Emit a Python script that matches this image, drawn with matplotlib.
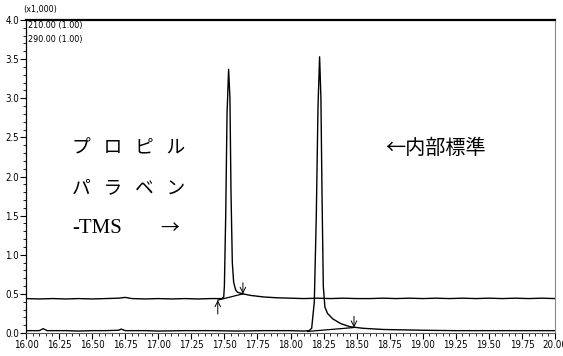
import matplotlib
matplotlib.use("Agg")
import matplotlib.pyplot as plt
from matplotlib.ticker import MultipleLocator, FormatStrFormatter

# data (x1,000)
t_upper = [16.00, 16.10, 16.20, 16.30, 16.40, 16.50, 16.60, 16.70, 16.75, 16.80, 16.90,
           17.00, 17.10, 17.20, 17.30, 17.40, 17.48, 17.495, 17.50, 17.51, 17.52, 17.532,
           17.542, 17.55, 17.56, 17.57, 17.585, 17.60, 17.64, 17.70, 17.80, 17.90, 18.00,
           18.10, 18.20, 18.30, 18.40, 18.50, 18.60, 18.70, 18.80, 18.90, 19.00, 19.10,
           19.20, 19.30, 19.40, 19.50, 19.60, 19.70, 19.80, 19.90, 20.00]
v_upper = [0.44, 0.435, 0.44, 0.435, 0.44, 0.435, 0.44, 0.445, 0.455, 0.44, 0.435,
           0.44, 0.435, 0.44, 0.435, 0.44, 0.44, 0.46, 0.6, 1.5, 2.8, 3.37,
           3.0, 1.8, 0.9, 0.65, 0.55, 0.52, 0.50, 0.48, 0.46, 0.45, 0.445,
           0.44, 0.445, 0.44, 0.445, 0.44, 0.44, 0.445, 0.44, 0.445, 0.44, 0.445,
           0.44, 0.445, 0.44, 0.445, 0.44, 0.445, 0.44, 0.445, 0.44]

t_lower = [16.00, 16.10, 16.13, 16.16, 16.30, 16.40, 16.50, 16.60, 16.70, 16.72, 16.75,
           16.90, 17.00, 17.20, 17.40, 17.60, 17.80, 18.00, 18.10, 18.14, 18.16, 18.18,
           18.195, 18.208, 18.22, 18.23, 18.238, 18.248, 18.26, 18.28, 18.32, 18.38, 18.45,
           18.55, 18.70, 18.85, 19.00, 19.25, 19.50, 19.75, 20.00]
v_lower = [0.03, 0.03, 0.055, 0.03, 0.03, 0.025, 0.03, 0.03, 0.035, 0.05, 0.03,
           0.03, 0.025, 0.03, 0.03, 0.025, 0.03, 0.03, 0.025, 0.03, 0.06, 0.4,
           1.5, 2.9, 3.53, 3.0, 1.8, 0.6, 0.33, 0.25, 0.18, 0.12, 0.08,
           0.06, 0.045, 0.04, 0.035, 0.03, 0.03, 0.03, 0.03]

# integration baselines (start, end)
ib1_t = [17.45, 17.64]
ib1_v = [0.42, 0.50]
ib2_t = [18.13, 18.48]
ib2_v = [0.02, 0.07]

fig = plt.figure(figsize=(5.63, 3.56), dpi=100)
ax = fig.add_axes([0.0462, 0.0646, 0.9396, 0.8792])

ax.plot(t_upper, v_upper, color="black", lw=1.0)
ax.plot(t_lower, v_lower, color="black", lw=1.0)
ax.plot(ib1_t, ib1_v, color="black", lw=0.9)
ax.plot(ib2_t, ib2_v, color="black", lw=0.9)

# peak start / end markers
arr = dict(arrowstyle="->", color="black", lw=0.7, shrinkA=0, shrinkB=0)
ax.annotate("", xy=(ib1_t[0], ib1_v[0]), xytext=(0, -10), textcoords="offset points", arrowprops=arr)
ax.annotate("", xy=(ib1_t[1], ib1_v[1]), xytext=(0, 8), textcoords="offset points", arrowprops=arr)
ax.annotate("", xy=(ib2_t[1], ib2_v[1]), xytext=(0, 8), textcoords="offset points", arrowprops=arr)

ax.set_xlim(16.0, 20.0)
ax.set_ylim(0.0, 4.0)
ax.xaxis.set_major_locator(MultipleLocator(0.25))
ax.xaxis.set_minor_locator(MultipleLocator(0.05))
ax.yaxis.set_major_locator(MultipleLocator(0.5))
ax.yaxis.set_minor_locator(MultipleLocator(0.1))
ax.xaxis.set_major_formatter(FormatStrFormatter("%.2f"))
ax.yaxis.set_major_formatter(FormatStrFormatter("%.1f"))

tick_font = ["DejaVu Sans"]
ax.tick_params(axis="both", which="major", direction="out", length=4, width=0.8,
               labelsize=7, pad=1)
ax.tick_params(axis="both", which="minor", direction="out", length=2.5, width=0.6)
for lab in ax.get_xticklabels() + ax.get_yticklabels():
    lab.set_family(tick_font)
    lab.set_stretch("condensed")

ax.spines["top"].set_linewidth(1.6)
ax.spines["left"].set_linewidth(0.9)
ax.spines["right"].set_color("#888888")
ax.spines["bottom"].set_color("#555555")

ax.text(-0.006, 1.018, "(x1,000)", transform=ax.transAxes, fontsize=6.5, family=tick_font,
        stretch="condensed", va="bottom", ha="left")
ax.text(0.003, 0.984, "210.00 (1.00)", transform=ax.transAxes, fontsize=6.5, family=tick_font,
        stretch="condensed", va="center", ha="left")
ax.text(0.003, 0.939, "290.00 (1.00)", transform=ax.transAxes, fontsize=6.5, family=tick_font,
        stretch="condensed", va="center", ha="left")

jp = ["Noto Sans CJK JP", "DejaVu Sans"]
ax.text(0.087, 0.591, "プ   ロ   ピ   ル", transform=ax.transAxes, fontsize=13.5, family=jp,
        va="center", ha="left")
ax.text(0.087, 0.463, "パ   ラ   ベ   ン", transform=ax.transAxes, fontsize=13.5, family=jp,
        va="center", ha="left")
ax.text(0.087, 0.335, "-TMS", transform=ax.transAxes, fontsize=15,
        family=["Liberation Serif", "DejaVu Serif"], va="center", ha="left")
ax.text(0.253, 0.335, "→", transform=ax.transAxes, fontsize=13.5, family=jp,
        va="center", ha="left")
ax.text(0.679, 0.591, "←内部標準", transform=ax.transAxes, fontsize=14.5, family=jp,
        va="center", ha="left")

fig.savefig("out.png", dpi=100)
